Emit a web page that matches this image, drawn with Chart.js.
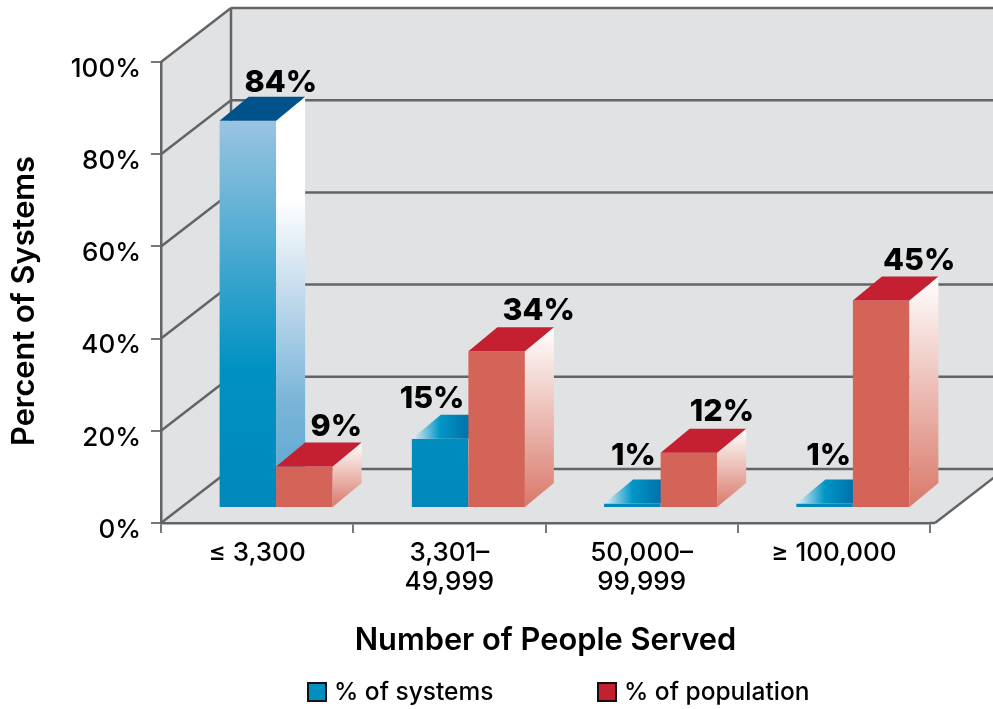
<!DOCTYPE html>
<html>
<head>
<meta charset="utf-8">
<title>Percent of Systems</title>
<script src="https://cdn.jsdelivr.net/npm/chart.js@4"></script>
<style>
    body { margin: 0; background: #ffffff; }
    canvas { display: block; }
</style>
</head>
<body>
<canvas id="systemsChart" width="993" height="709"></canvas>
<script>
const categories = [['\u2264 3,300'], ['3,301\u2013', '49,999'], ['50,000\u2013', '99,999'], ['\u2265 100,000']];
const percentSystems = [84, 15, 1, 1];
const percentPopulation = [9, 34, 12, 45];
const yTicks = [0, 20, 40, 60, 80, 100];
const yTitle = 'Percent of Systems';

// label nudges from the top centre of each bar's front face, in px
const systemsLabelShift = [[33, -29], [-8, -31], [1, -38], [4, -38]];
const populationLabelShift = [[32, -31], [42, -31], [33, -32], [38, -31]];

const fontName = 'Inter, "Liberation Sans", Arial, sans-serif';
const lineColor = '#636466';
const wallColor = '#e1e2e4';
const wallDepth = { x: 70, y: -54 };   // front of the floor to the back wall
const barShift = { x: 19, y: -15 };    // bars stand a bit inside the floor
const barDepth = { x: 29, y: -24 };    // depth of a single bar

function drawPoly(ctx, points, fill) {
    ctx.beginPath();
    points.forEach(function(p, i) {
        if (i === 0) ctx.moveTo(p[0], p[1]); else ctx.lineTo(p[0], p[1]);
    });
    ctx.closePath();
    ctx.fillStyle = fill;
    ctx.fill();
}

function drawLine(ctx, x1, y1, x2, y2) {
    ctx.beginPath();
    ctx.moveTo(x1, y1);
    ctx.lineTo(x2, y2);
    ctx.stroke();
}

// walls, floor and the grid that runs along them
const wallsPlugin = {
    id: 'walls',
    beforeDraw(chart) {
        const ctx = chart.ctx;
        const area = chart.chartArea;
        const y = chart.scales.y;
        const dx = wallDepth.x, dy = wallDepth.y;
        const bx = area.left + dx;
        ctx.save();
        ctx.fillStyle = wallColor;
        ctx.fillRect(bx, area.top + dy, chart.width - bx, area.bottom - area.top);
        drawPoly(ctx, [[area.left, area.top], [bx, area.top + dy], [bx, area.bottom + dy], [area.left, area.bottom]], wallColor);
        drawPoly(ctx, [[area.left, area.bottom], [bx, area.bottom + dy], [area.right + 5 + dx, area.bottom + dy], [area.right + 5, area.bottom]], wallColor);
        ctx.strokeStyle = lineColor;
        ctx.lineWidth = 2.5;
        yTicks.forEach(function(v) {
            const py = y.getPixelForValue(v);
            drawLine(ctx, area.left, py, bx, py + dy);
            drawLine(ctx, bx, py + dy, chart.width, py + dy);
        });
        drawLine(ctx, bx, area.top + dy, bx, area.bottom + dy);
        drawLine(ctx, area.right, area.bottom, area.right + 5, area.bottom);
        drawLine(ctx, area.right + 5, area.bottom, area.right + 5 + dx, area.bottom + dy);
        ctx.restore();
    }
};

function sideFill(ctx, isBlue, top, base) {
    const g = ctx.createLinearGradient(0, top + barDepth.y, 0, base);
    if (isBlue) {
        g.addColorStop(0, '#ffffff');
        g.addColorStop(0.25, '#ffffff');
        g.addColorStop(0.5, '#bdd8eb');
        g.addColorStop(0.75, '#78b4d8');
        g.addColorStop(1, '#59a5cf');
    } else {
        g.addColorStop(0, '#ffffff');
        g.addColorStop(1, '#d9796a');
    }
    return g;
}

function topFill(ctx, left, right, isBlue, value) {
    if (!isBlue) return '#c42032';
    if (value > 50) return '#00528b';
    const g = ctx.createLinearGradient(left, 0, right, 0);
    g.addColorStop(0, '#e8f0f8');
    g.addColorStop(0.5, '#0096c6');
    g.addColorStop(1, '#0072aa');
    return g;
}

// blue goes first so the red bars cover its side, each dataset moved onto the floor
const boxPlugin = {
    id: 'box',
    beforeDatasetsDraw(chart) {
        const ctx = chart.ctx;
        const dx = barDepth.x, dy = barDepth.y;
        const shifts = [systemsLabelShift, populationLabelShift];
        chart.data.datasets.forEach(function(ds, d) {
            const meta = chart.getDatasetMeta(d);
            ctx.save();
            ctx.translate(barShift.x, barShift.y);
            meta.controller.draw();
            meta.data.forEach(function(bar, i) {
                const left = bar.x - bar.width / 2;
                const right = bar.x + bar.width / 2;
                const top = bar.y;
                const base = bar.base;
                drawPoly(ctx, [[right, top], [right + dx, top + dy], [right + dx, base + dy], [right, base]], sideFill(ctx, d === 0, top, base));
                drawPoly(ctx, [[left, top], [left + dx, top + dy], [right + dx, top + dy], [right, top]], topFill(ctx, left, right, d === 0, ds.data[i]));
            });
            ctx.restore();
        });
        ctx.save();
        ctx.font = '800 30.5px ' + fontName;
        ctx.fillStyle = '#000000';
        ctx.textAlign = 'center';
        ctx.textBaseline = 'alphabetic';
        chart.data.datasets.forEach(function(ds, d) {
            chart.getDatasetMeta(d).data.forEach(function(bar, i) {
                ctx.fillText(ds.data[i] + '%', bar.x + barShift.x + shifts[d][i][0], bar.y + barShift.y + shifts[d][i][1]);
            });
        });
        ctx.restore();
        return false;
    },
    afterDraw(chart) {
        const ctx = chart.ctx;
        const keys = [[308, '#0090c0'], [598, '#c42032']];
        ctx.save();
        ctx.font = '500 24.5px ' + fontName;
        ctx.textBaseline = 'alphabetic';
        chart.data.datasets.forEach(function(ds, d) {
            ctx.fillStyle = keys[d][1];
            ctx.fillRect(keys[d][0], 683, 18, 18);
            ctx.strokeStyle = '#111111';
            ctx.lineWidth = 2;
            ctx.strokeRect(keys[d][0], 683, 18, 18);
            ctx.fillStyle = '#000000';
            ctx.fillText(ds.label, keys[d][0] + 26, 700);
        });
        // y title sits lower than the middle of the axis
        ctx.translate(25, 301);
        ctx.rotate(-Math.PI / 2);
        ctx.font = '600 30.8px ' + fontName;
        ctx.textAlign = 'center';
        ctx.textBaseline = 'middle';
        ctx.fillText(yTitle, 0, 0);
        ctx.restore();
    }
};

function blueFront(context) {
    const g = context.chart.ctx.createLinearGradient(0, 136, 0, 523);
    g.addColorStop(0, '#9ac4e1');
    g.addColorStop(0.64, '#0091c2');
    g.addColorStop(1, '#0088bb');
    return g;
}

const systemsCtx = document.getElementById('systemsChart').getContext('2d');
const systemsChart = new Chart(systemsCtx, {
    type: 'bar',
    data: {
        labels: categories,
        datasets: [{
            label: '% of systems',
            data: percentSystems,
            backgroundColor: blueFront,
            clip: false
        }, {
            label: '% of population',
            data: percentPopulation,
            backgroundColor: '#d46358',
            clip: false
        }]
    },
    options: {
        responsive: false,
        animation: false,
        categoryPercentage: 0.588,
        barPercentage: 1,
        layout: {
            autoPadding: false,
            padding: { top: 62, right: 63 }
        },
        plugins: {
            legend: { display: false },
            tooltip: { enabled: false }
        },
        scales: {
            x: {
                afterFit(scale) { scale.height = 186; },
                border: { color: lineColor, width: 2.5 },
                grid: { drawOnChartArea: false, tickLength: 10, color: '#77787b', lineWidth: 2 },
                ticks: {
                    color: '#000000',
                    maxRotation: 0,
                    autoSkip: false,
                    padding: 6,
                    font: { family: fontName, size: 26, weight: '500', lineHeight: 1.1 }
                },
                title: {
                    display: true,
                    text: 'Number of People Served',
                    color: '#000000',
                    padding: { bottom: 50 },
                    font: { family: fontName, size: 30.8, weight: '600' }
                }
            },
            y: {
                min: 0,
                max: 100,
                afterFit(scale) { scale.width = 161; },
                afterBuildTicks(scale) { scale.ticks = yTicks.map(function(v) { return { value: v }; }); },
                border: { color: lineColor, width: 2.5 },
                grid: { drawOnChartArea: false, tickLength: 10, color: '#77787b', lineWidth: 2 },
                ticks: {
                    color: '#000000',
                    padding: 10,
                    labelOffset: 7,
                    callback: function(value) { return value + '%'; },
                    font: { family: fontName, size: 26, weight: '500' }
                },
                title: { display: false }
            }
        }
    },
    plugins: [wallsPlugin, boxPlugin]
});
</script>
</body>
</html>
